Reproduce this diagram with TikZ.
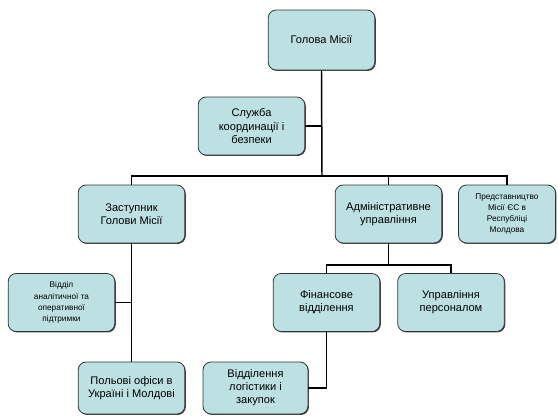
\documentclass[tikz,border=0pt]{standalone}
\usepackage{fontspec}
\setmainfont{Liberation Sans}
\usepackage{xcolor}
\definecolor{cFill}{HTML}{BDE1E3}
\definecolor{cLine}{HTML}{333333}
\usepackage{tikz}
\usetikzlibrary{positioning,shadows}
\tikzset{
  node-box/.style={draw=cLine,fill=cFill,line width=0.6pt,rounded corners=6pt,
    minimum width=80pt,minimum height=43.5pt,align=center,inner sep=2pt,
    font=\fontsize{8.3pt}{9.8pt}\selectfont,
    drop shadow={shadow xshift=0.7pt,shadow yshift=-0.7pt,fill=black!75,opacity=1}},
  node-small/.style={font=\fontsize{6.2pt}{8.4pt}\selectfont},
  link/.style={draw=black,line width=1.1pt},
  link-thin/.style={draw=black,line width=0.8pt},
}
\begin{document}
\begin{tikzpicture}[x=0.75pt,y=-0.75pt]
  \useasboundingbox (0,0) rectangle (558,418);
  % boxes
  \node[node-box,minimum height=45pt] (head) at (321.5,40) {Голова Місії};
  \node[node-box] (coord) at (251.5,126) {Служба\\координації і\\безпеки};
  \node[node-box] (deputy) at (131.5,214) {Заступник\\Голови Місії};
  \node[node-box] (admin) at (388.5,214) {Адміністративне\\управління};
  \node[node-box,node-small,minimum width=72.75pt] (rep) at (507,214)
    {Представництво\\Місії ЄС в\\Республіці\\Молдова};
  \node[node-box,node-small] (anal) at (61.5,302.5)
    {Відділ\\аналітичної та\\оперативної\\підтримки};
  \node[node-box,minimum height=39pt] (field) at (131.5,388) {Польові офіси в\\Україні і Молдові};
  \node[node-box] (fin) at (326.5,302.5) {Фінансове\\відділення};
  \node[node-box] (hr) at (451,302.5) {Управління\\персоналом};
  \node[node-box,minimum width=78.75pt,minimum height=39pt] (log) at (255.5,388)
    {Відділення\\логістики і\\закупок};
  % connectors
  \coordinate (bar1) at (322,176);
  \coordinate (bar2) at (388.5,265);
  \draw[link] (head.south) -- (bar1);
  \draw[link] (coord.east) -- (coord.east -| bar1);
  \draw[link] (bar1) -| (deputy.north);
  \draw[link-thin] (bar1) -| (admin.north);
  \draw[link-thin] (bar1) -| (rep.north);
  \draw[link] (deputy.south) -- (field.north);
  \draw[link] (anal.east) -- (anal.east -| deputy.south);
  \draw[link] (admin.south) -- (bar2);
  \draw[link-thin] (bar2) -| (fin.north);
  \draw[link-thin] (bar2) -| (hr.north);
  \draw[link] (fin.south) |- (log.east);
\end{tikzpicture}
\end{document}
